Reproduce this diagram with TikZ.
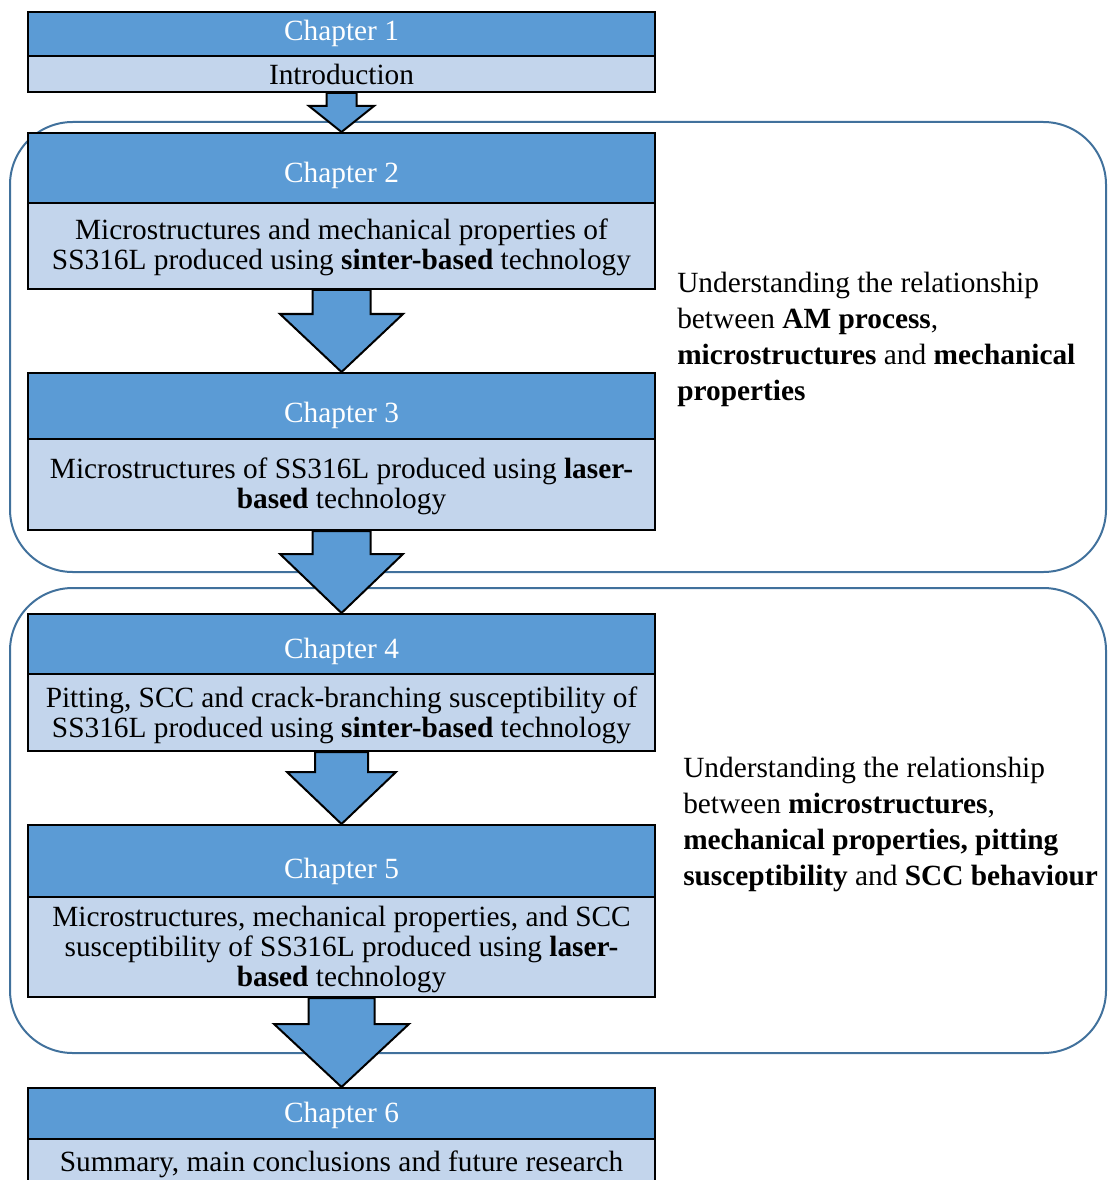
\documentclass[tikz,border=0pt]{standalone}
\usepackage{fontspec}
\setmainfont{Liberation Serif}
\usetikzlibrary{calc}
\definecolor{hdrblue}{HTML}{5B9BD5}
\definecolor{bodyblue}{HTML}{C3D5EC}
\definecolor{grpblue}{HTML}{41719C}
\newcommand\chaparrow[5]{%
  \draw[barrow] ($(#1.south)+(-#3,0)$) -- ($(#1.south)+(-#3,#5)$) -- ($(#1.south)+(-#4,#5)$) -- (#2.north)
    -- ($(#1.south)+(#4,#5)$) -- ($(#1.south)+(#3,#5)$) -- ($(#1.south)+(#3,0)$) -- cycle;}
\begin{document}
\begin{tikzpicture}[x=0.75pt,y=-0.75pt,
  boxbase/.style={draw=black, line width=1.5pt, minimum width=470.25pt, inner sep=0pt, anchor=north},
  hdr/.style={boxbase, fill=hdrblue},
  bdy/.style={boxbase, fill=bodyblue},
  hdrtext/.style={text=white, inner sep=0pt, font=\fontsize{22}{22.5}\selectfont},
  bdytext/.style={text=black, inner sep=0pt, align=center, font=\fontsize{22}{22.5}\selectfont},
  sidetext/.style={text=black, inner sep=0pt, align=left, anchor=west, font=\fontsize{22}{27}\selectfont},
  grp/.style={draw=grpblue, line width=1.5pt, rounded corners=47pt},
  barrow/.style={draw=black, line width=1.5pt, fill=hdrblue, line join=miter}]
\useasboundingbox (0,0) rectangle (1108,1180);
% group outlines
\draw[grp] (10,122) rectangle (1106,572);
\draw[grp] (10,588) rectangle (1106,1053);
% boxes
\node[hdr, minimum height=33pt] (h1) at (341.5,11) {};
\node[bdy, minimum height=27pt] (b1) at (341.5,55) {};
\node[hdr, minimum height=52.5pt] (h2) at (341.5,132) {};
\node[bdy, minimum height=64.5pt] (b2) at (341.5,202) {};
\node[hdr, minimum height=49.5pt] (h3) at (341.5,372) {};
\node[bdy, minimum height=68.25pt] (b3) at (341.5,438) {};
\node[hdr, minimum height=45pt] (h4) at (341.5,613) {};
\node[bdy, minimum height=57.75pt] (b4) at (341.5,673) {};
\node[hdr, minimum height=54pt] (h5) at (341.5,824) {};
\node[bdy, minimum height=75pt] (b5) at (341.5,896) {};
\node[hdr, minimum height=38.25pt] (h6) at (341.5,1087) {};
\node[bdy, minimum height=34.5pt] (b6) at (341.5,1138) {};
% texts
\node[hdrtext] (t1) at (341.5,33) {Chapter 1};
\node[bdytext] (u1) at (341.5,74) {Introduction};
\node[hdrtext] (t2) at (341.5,175) {Chapter 2};
\node[bdytext] (u2) at (341.5,247) {Microstructures and mechanical properties of\\SS316L produced using \textbf{sinter-based} technology};
\node[hdrtext] (t3) at (341.5,415) {Chapter 3};
\node[bdytext] (u3) at (341.5,486) {Microstructures of SS316L produced using \textbf{laser-}\\\textbf{based} technology};
\node[hdrtext] (t4) at (341.5,651) {Chapter 4};
\node[bdytext] (u4) at (341.5,715) {Pitting, SCC and crack-branching susceptibility of\\SS316L produced using \textbf{sinter-based} technology};
\node[hdrtext] (t5) at (341.5,871) {Chapter 5};
\node[bdytext] (u5) at (341.5,949) {Microstructures, mechanical properties, and SCC\\susceptibility of SS316L produced using \textbf{laser-}\\\textbf{based} technology};
\node[hdrtext] (t6) at (341.5,1115) {Chapter 6};
\node[bdytext] (u6) at (341.5,1164) {Summary, main conclusions and future research};
% side texts
\node[sidetext] (s1) at (677,339) {Understanding the relationship\\between \textbf{AM process},\\\textbf{microstructures} and \textbf{mechanical}\\\textbf{properties}};
\node[sidetext] (s2) at (683,824) {Understanding the relationship\\between \textbf{microstructures},\\\textbf{mechanical properties, pitting}\\\textbf{susceptibility} and \textbf{SCC behaviour}};
% arrows
\chaparrow{b1}{h2}{15}{32.5}{13}
\chaparrow{b2}{h3}{29}{61.5}{24}
\chaparrow{b3}{h4}{29}{61.5}{23}
\chaparrow{b4}{h5}{26.5}{54.5}{20}
\chaparrow{b5}{h6}{33}{67.5}{26}
\end{tikzpicture}
\end{document}
